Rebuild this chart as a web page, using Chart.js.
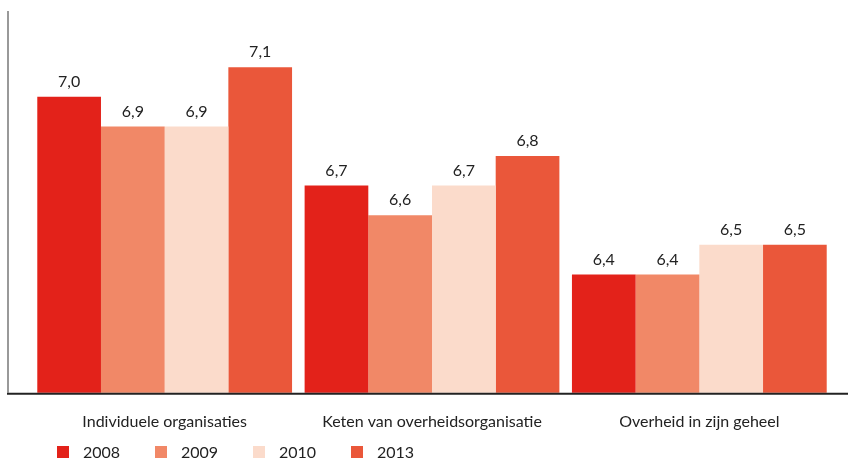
<!DOCTYPE html>
<html>
<head>
<meta charset="utf-8">
<script src="https://cdn.jsdelivr.net/npm/chart.js@4"></script>
<style>
  html, body { margin: 0; padding: 0; background: #fff; }
  #wrap { position: relative; width: 848px; height: 461px; }
  #legend { position: absolute; left: 57px; top: 442px; display: flex; font: 16px Lato, sans-serif; color: #222; }
  #legend .item { display: flex; align-items: center; width: 98px; }
  #legend .box { width: 12px; height: 12px; margin-right: 14px; }
</style>
</head>
<body>
<div id="wrap">
  <canvas id="tevredenheid" width="848" height="461"></canvas>
  <div id="legend"></div>
</div>
<script>
const categories = ['Individuele organisaties', 'Keten van overheidsorganisatie', 'Overheid in zijn geheel'];
const years = ['2008', '2009', '2010', '2013'];
const cijfers2008 = [7.0, 6.7, 6.4];
const cijfers2009 = [6.9, 6.6, 6.4];
const cijfers2010 = [6.9, 6.7, 6.5];
const cijfers2013 = [7.1, 6.8, 6.5];
const colors = ['#e3221a', '#f18867', '#fbdbcb', '#ea573a'];

const series = [cijfers2008, cijfers2009, cijfers2010, cijfers2013];

// axis lines: grey vertical on the left, dark baseline across the whole width
const axisLines = {
    id: 'axisLines',
    afterDatasetsDraw(chart) {
        const c = chart.ctx;
        const area = chart.chartArea;
        c.save();
        c.strokeStyle = '#777';
        c.lineWidth = 1.5;
        c.beginPath();
        c.moveTo(8, area.top);
        c.lineTo(8, area.bottom);
        c.stroke();
        c.strokeStyle = '#222';
        c.lineWidth = 2;
        c.beginPath();
        c.moveTo(7, area.bottom + 1);
        c.lineTo(848, area.bottom + 1);
        c.stroke();
        c.restore();
    }
};

// value above each bar, with a decimal comma
const valueLabels = {
    id: 'valueLabels',
    afterDatasetsDraw(chart) {
        const c = chart.ctx;
        c.save();
        c.font = '16px Lato, sans-serif';
        c.fillStyle = '#222';
        c.textAlign = 'center';
        c.textBaseline = 'bottom';
        chart.data.datasets.forEach((ds, i) => {
            chart.getDatasetMeta(i).data.forEach((bar, j) => {
                c.fillText(ds.data[j].toFixed(1).replace('.', ','), bar.x, bar.y - 7);
            });
        });
        c.restore();
    }
};

const ctx = document.getElementById('tevredenheid').getContext('2d');
const tevredenheid = new Chart(ctx, {
    type: 'bar',
    data: {
        labels: categories,
        datasets: years.map((y, i) => ({
            label: y,
            data: series[i],
            backgroundColor: colors[i],
            borderWidth: 0,
            categoryPercentage: 0.953,
            barPercentage: 1
        }))
    },
    options: {
        responsive: false,
        animation: false,
        layout: { padding: { left: 31, right: 15, top: 11, bottom: 11 } },
        plugins: {
            legend: { display: false },
            tooltip: { enabled: false }
        },
        scales: {
            x: {
                grid: { display: false, drawTicks: false },
                border: { display: false },
                ticks: { color: '#222', font: { family: 'Lato', size: 16 }, padding: 19 }
            },
            y: {
                display: false,
                min: 6,
                max: 7.29
            }
        }
    },
    plugins: [axisLines, valueLabels]
});

const legend = document.getElementById('legend');
years.forEach((y, i) => {
    const item = document.createElement('div');
    item.className = 'item';
    item.innerHTML = '<span class="box" style="background:' + colors[i] + '"></span>' + y;
    legend.appendChild(item);
});
</script>
</body>
</html>
